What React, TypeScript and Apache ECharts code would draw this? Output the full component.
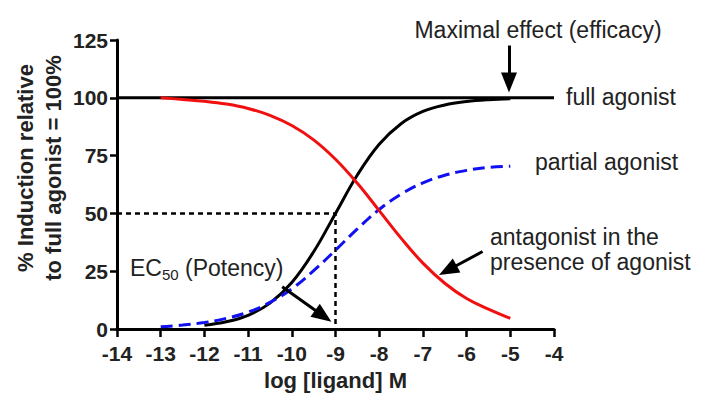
import React, { useEffect, useRef } from "react";
import * as echarts from "echarts";

const logLigand = [-13, -12.5, -12, -11.5, -11, -10.5, -10, -9.5, -9, -8.5, -8, -7.5, -7, -6.5, -6, -5.5, -5];
const fullAgonist = [null, null, 1.6, 3.1, 5.9, 11.2, 20.1, 33.4, 50, 66.6, 79.9, 88.8, 94.1, 96.9, 98.4, 99.2, 99.6];
const partialAgonist = [1.0, 1.7, 2.8, 4.6, 7.3, 11.5, 17.4, 25.2, 34.1, 43.3, 51.7, 58.3, 63.2, 66.5, 68.6, 69.9, 70.4];
const antagonist = [100, 99.3, 98.5, 97.3, 95.4, 92.4, 88.0, 81.8, 73.4, 63.0, 51.2, 39.3, 28.5, 19.8, 13.2, 8.6, 4.6];

const X_MIN = -14;
const X_MAX = -4;
const Y_MIN = 0;
const Y_MAX = 125;
const MAX_EFFECT = 100;
const EC50 = -9;
const HALF_MAX = 50;

// annotation arrows: [from, to] in data coordinates
const arrowMaxEffect = [[-5.03, 122.6], [-5.03, 106.6]];
const arrowEC50 = [[-10.22, 18.3], [-9.28, 5.6]];
const arrowAntagonist = [[-5.635, 33.5], [-6.43, 25.4]];

const FONT = "'Liberation Sans', Arial, Helvetica, sans-serif";
const TEXT_COLOR = "#222";

export default function App() {
  const ref = useRef<HTMLDivElement>(null);
  useEffect(() => {
    if (!ref.current) return;
    const chart = echarts.init(ref.current, null, { renderer: "svg" });
    const pts = (ys: (number | null)[]) => logLigand.map((x, i) => [x, ys[i]]);
    const arrowLine = (a: number[][]) => [
      { coord: a[0], symbol: "none" },
      { coord: a[1], symbol: "triangle", symbolSize: [16, 20] },
    ];
    chart.setOption({
      animation: false,
      backgroundColor: "#fff",
      grid: { left: 117, right: 148, top: 40, bottom: 68, containLabel: false, outerBoundsMode: "none" },
      xAxis: {
        type: "value",
        min: X_MIN,
        max: X_MAX,
        interval: 1,
        name: "log [ligand] M",
        nameLocation: "middle",
        nameGap: 40,
        nameTextStyle: { fontFamily: FONT, fontSize: 22, fontWeight: "bold", color: TEXT_COLOR },
        axisLine: { onZero: false, lineStyle: { color: "#000", width: 3 } },
        axisTick: { show: true, length: 8, lineStyle: { color: "#000", width: 2.5 } },
        axisLabel: { fontFamily: FONT, fontSize: 21, fontWeight: "bold", color: TEXT_COLOR, margin: 14 },
        splitLine: { show: false },
      },
      yAxis: {
        type: "value",
        min: Y_MIN,
        max: Y_MAX,
        interval: 25,
        axisLine: { show: true, onZero: false, lineStyle: { color: "#000", width: 3 } },
        axisTick: { show: true, length: 7, lineStyle: { color: "#000", width: 2.5 } },
        axisLabel: { fontFamily: FONT, fontSize: 21, fontWeight: "bold", color: TEXT_COLOR, margin: 9 },
        splitLine: { show: false },
      },
      graphic: [
        {
          type: "text",
          x: 39,
          y: 168,
          rotation: Math.PI / 2,
          style: {
            text: "% Induction relative\nto full agonist = 100%",
            font: `bold 22px ${FONT}`,
            fill: TEXT_COLOR,
            textAlign: "center",
            textVerticalAlign: "middle",
            lineHeight: 28,
          },
        },
        {
          type: "text",
          x: 538,
          y: 30,
          style: {
            text: "Maximal effect (efficacy)",
            font: `23px ${FONT}`,
            fill: TEXT_COLOR,
            textAlign: "center",
            textVerticalAlign: "middle",
          },
        },
        {
          type: "text",
          x: 566,
          y: 97,
          style: { text: "full agonist", font: `23px ${FONT}`, fill: TEXT_COLOR, textAlign: "left", textVerticalAlign: "middle" },
        },
        {
          type: "text",
          x: 535,
          y: 162,
          style: { text: "partial agonist", font: `23px ${FONT}`, fill: TEXT_COLOR, textAlign: "left", textVerticalAlign: "middle" },
        },
        {
          type: "text",
          x: 490,
          y: 249,
          style: {
            text: "antagonist in the\npresence of agonist",
            font: `23px ${FONT}`,
            fill: TEXT_COLOR,
            textAlign: "left",
            textVerticalAlign: "middle",
            lineHeight: 25,
          },
        },
        {
          type: "text",
          x: 130,
          y: 268,
          style: {
            text: "{a|EC}{b|50}{a| (Potency)}",
            textAlign: "left",
            textVerticalAlign: "middle",
            fill: TEXT_COLOR,
            rich: {
              a: { fontFamily: FONT, fontSize: 23, lineHeight: 28, fill: TEXT_COLOR },
              b: { fontFamily: FONT, fontSize: 15, lineHeight: 28, fill: TEXT_COLOR, verticalAlign: "bottom", padding: [10, 0, 0, 0] },
            },
          },
        },
      ],
      series: [
        {
          name: "full agonist level",
          type: "line",
          data: [[X_MIN, MAX_EFFECT], [X_MAX, MAX_EFFECT]],
          symbol: "none",
          lineStyle: { color: "#000", width: 3 },
          z: 2,
        },
        {
          name: "EC50 guide",
          type: "line",
          data: [[X_MIN, HALF_MAX], [EC50, HALF_MAX], [EC50, 0]],
          symbol: "none",
          lineStyle: { color: "#000", width: 2.5, type: [5, 4] },
          z: 2,
          markLine: {
            silent: true,
            animation: false,
            label: { show: false },
            lineStyle: { color: "#000", width: 3, type: "solid" },
            itemStyle: { color: "#000" },
            data: [arrowLine(arrowMaxEffect), arrowLine(arrowEC50), arrowLine(arrowAntagonist)],
          },
        },
        {
          name: "full agonist",
          type: "line",
          data: pts(fullAgonist),
          smooth: 0.4,
          symbol: "none",
          lineStyle: { color: "#000", width: 3 },
          z: 3,
        },
        {
          name: "partial agonist",
          type: "line",
          data: pts(partialAgonist),
          smooth: 0.4,
          symbol: "none",
          lineStyle: { color: "#1010f0", width: 3, type: [12, 6] },
          z: 4,
        },
        {
          name: "antagonist",
          type: "line",
          data: pts(antagonist),
          smooth: 0.4,
          symbol: "none",
          lineStyle: { color: "#f01010", width: 3 },
          z: 5,
        },
      ],
    });
    return () => chart.dispose();
  }, []);
  return <div ref={ref} style={{ position: "fixed", left: 0, top: 0, width: 702, height: 397, background: "#fff" }} />;
}
